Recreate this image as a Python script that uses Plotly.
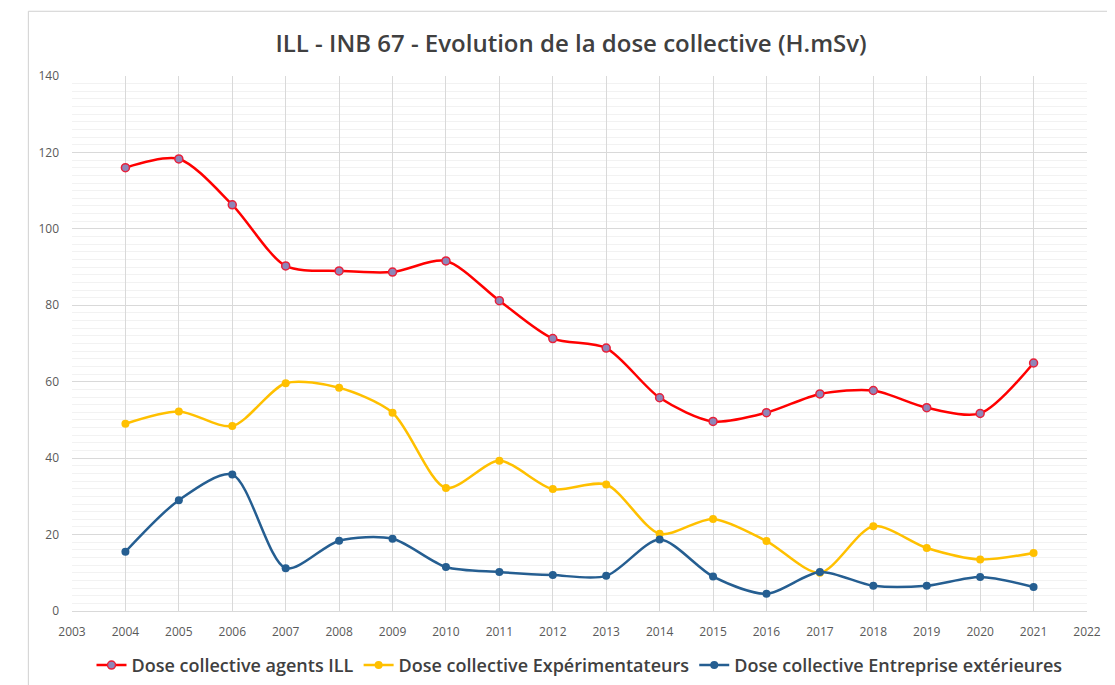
import plotly.graph_objects as go

years = list(range(2004, 2022))
agents_ill = [116.0, 118.3, 106.3, 90.3, 89.0, 88.7, 91.6, 81.2, 71.3, 68.8, 55.8, 49.6, 51.9, 56.8, 57.7, 53.2, 51.7, 64.9]
experimentateurs = [49.0, 52.2, 48.4, 59.6, 58.4, 51.9, 32.2, 39.3, 31.9, 33.1, 20.2, 24.1, 18.3, 10.0, 22.2, 16.5, 13.5, 15.2]
entreprises = [15.5, 29.0, 35.7, 11.2, 18.4, 18.9, 11.5, 10.2, 9.4, 9.2, 18.7, 9.0, 4.5, 10.2, 6.6, 6.6, 8.9, 6.3]

names = ["Dose collective agents ILL", "Dose collective Expérimentateurs", "Dose collective Entreprise extérieures"]

fig = go.Figure()
fig.add_trace(go.Scatter(
    x=years, y=agents_ill, name=names[0], mode="lines+markers",
    line=dict(color="#FF0000", width=2.5, shape="spline", smoothing=0.8),
    marker=dict(size=8, color="#8E86B8", line=dict(color="#E8203A", width=1.5)),
))
fig.add_trace(go.Scatter(
    x=years, y=experimentateurs, name=names[1], mode="lines+markers",
    line=dict(color="#FFC000", width=2.5, shape="spline", smoothing=0.8),
    marker=dict(size=8, color="#FFC000"),
))
fig.add_trace(go.Scatter(
    x=years, y=entreprises, name=names[2], mode="lines+markers",
    line=dict(color="#255E91", width=2.5, shape="spline", smoothing=0.8),
    marker=dict(size=8, color="#255E91"),
))

fig.update_layout(
    width=1115, height=685,
    margin=dict(l=64, r=36, t=68, b=82, autoexpand=False),
    paper_bgcolor="white", plot_bgcolor="white",
    title=dict(text="ILL - INB 67 - Evolution de la dose collective (H.mSv)",
               x=0.505, xanchor="center", y=0.948, yanchor="middle",
               font=dict(family="Open Sans", size=24, color="#404040", weight=600)),
    font=dict(family="Open Sans", color="#595959"),
    legend=dict(orientation="h", x=0.5, xanchor="center", y=-0.067, yanchor="top",
                font=dict(family="Open Sans", size=18, color="#404040", weight=600),
                itemwidth=30, tracegroupgap=0),
    showlegend=True,
)
fig.update_xaxes(
    range=[2003, 2022], tickmode="linear", tick0=2003, dtick=1,
    showgrid=True, gridcolor="#D9D9D9", gridwidth=1,
    showline=True, linecolor="#D9D9D9", linewidth=1,
    tickfont=dict(size=12, color="#595959"), ticks="", zeroline=False,
    ticklabelstandoff=10, automargin=False,
)
fig.update_yaxes(
    range=[0, 140], tickmode="linear", tick0=0, dtick=20,
    showgrid=True, gridcolor="#D9D9D9", gridwidth=1,
    minor=dict(dtick=2, showgrid=True, gridcolor="#F2F2F2", gridwidth=1),
    showline=False, zeroline=False,
    tickfont=dict(size=12, color="#595959"), ticks="", ticklabelstandoff=12,
    automargin=False,
)
fig.add_shape(type="line", xref="paper", yref="paper", x0=-0.043, x1=1.1, y0=1.121, y1=1.121,
              line=dict(color="#D0D0D0", width=1))
fig.add_shape(type="line", xref="paper", yref="paper", x0=-0.043, x1=-0.043, y0=-0.2, y1=1.121,
              line=dict(color="#D0D0D0", width=1))

fig.write_html("out.html")
